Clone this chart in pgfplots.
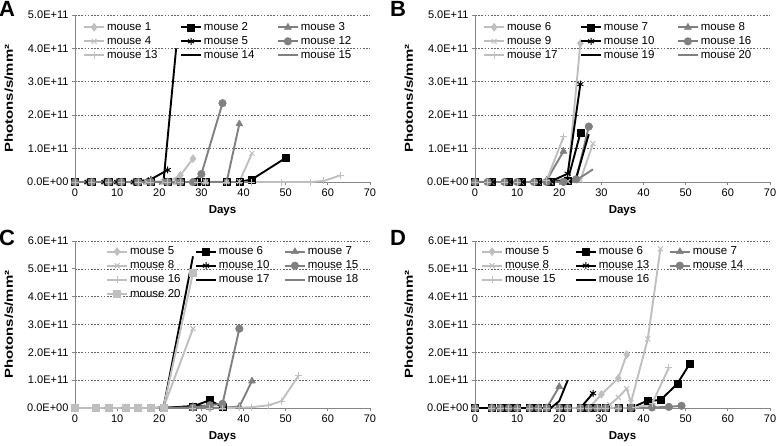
\documentclass[border=0pt]{standalone}
\usepackage{fontspec}
\setmainfont{Liberation Sans}
\usepackage{pgfplots}
\pgfplotsset{compat=1.18}
\definecolor{lg}{RGB}{191,191,191}
\definecolor{mg}{RGB}{128,128,128}
\definecolor{axgray}{RGB}{134,134,134}
\definecolor{gridgray}{RGB}{100,100,100}

\newcommand{\lt}[2]{\makebox[#1][l]{#2}}

\tikzset{
  sA/.style={lg, line width=1.9pt, mark=diamond*, mark size=4pt, mark options={solid, fill=lg, line width=0.5pt}},
  sB/.style={black, line width=1.9pt, mark=square*, mark size=3.5pt, mark options={solid, fill=black, line width=0.5pt}},
  sC/.style={mg, line width=1.9pt, mark=triangle*, mark size=4pt, mark options={solid, fill=mg, line width=0.5pt}},
  sD/.style={lg, line width=1.9pt, mark=x, mark size=3.5pt, mark options={solid, line width=1pt}},
  sE/.style={black, line width=1.9pt, mark=asterisk, mark size=3.5pt, mark options={solid, line width=1pt}},
  sF/.style={mg, line width=1.9pt, mark=*, mark size=3.8pt, mark options={solid, fill=mg, line width=0.5pt}},
  sG/.style={lg, line width=1.9pt, mark=+, mark size=3.5pt, mark options={solid, line width=1pt}},
  sH/.style={black, line width=1.9pt, no markers},
  sI/.style={mg, line width=1.9pt, no markers},
  sJ/.style={lg, line width=1.9pt, mark=square*, mark size=3.5pt, mark options={solid, fill=lg, line width=0.5pt}},
}

\pgfplotsset{
  panel/.style={
    scale only axis, width=295pt, height=167pt, anchor=south west,
    xmin=0, xmax=70, ymin=0,
    xtick={0,10,...,70},
    axis x line=bottom, axis y line=left,
    axis line style={-, draw=axgray, line width=0.8pt},
    tick style={draw=axgray, line width=0.8pt},
    tick align=outside, major tick length=3pt,
    ymajorgrids, grid style={gridgray, line width=0.6pt, dash pattern=on 1.6pt off 1.6pt},
    ticklabel style={font=\fontsize{11}{13}\selectfont},
    /pgf/number format/assume math mode=true,
    scaled y ticks=false,
    xlabel={Days}, ylabel={\scalebox{1.3}[1]{Photons/s/mm²}},
    label style={font=\bfseries\fontsize{11.5}{13}\selectfont},
    xlabel style={at={(axis description cs:0.5,-0.172)}, anchor=center},
    ylabel style={at={(axis description cs:-0.224,0.5)}, anchor=center},
    legend columns=3, legend cell align=left,
    legend image code/.code={\draw[mark repeat=2,mark phase=2,##1] plot coordinates {(0pt,0pt)(10pt,0pt)(20pt,0pt)};},
    legend style={draw=none, fill=none, anchor=north west, inner sep=0pt,
      font=\fontsize{11.5}{13}\selectfont, row sep=0.5pt},
    line join=round,
  },
  five/.style={ymax=5e11, ytick={0,1e11,2e11,3e11,4e11,5e11},
    yticklabels={0.0E+00,1.0E+11,2.0E+11,3.0E+11,4.0E+11,5.0E+11}},
  six/.style={ymax=6e11, ytick={0,1e11,2e11,3e11,4e11,5e11,6e11},
    yticklabels={0.0E+00,1.0E+11,2.0E+11,3.0E+11,4.0E+11,5.0E+11,6.0E+11}},
}

\begin{document}
\begin{tikzpicture}
\path[use as bounding box] (0pt,0pt) rectangle (778pt,445pt);

\node[font=\bfseries\fontsize{22}{22}\selectfont] at (7pt,436pt) {A};
\node[font=\bfseries\fontsize{22}{22}\selectfont] at (398pt,436pt) {B};
\node[font=\bfseries\fontsize{22}{22}\selectfont] at (7pt,207pt) {C};
\node[font=\bfseries\fontsize{22}{22}\selectfont] at (398pt,207pt) {D};

% ---------- A ----------
\begin{axis}[panel, five, at={(75pt,263pt)},
  legend style={at={(axis description cs:0.027,0.968)}}]
\addplot[sA] coordinates {(0,0)(4,0)(8,0)(11,0)(15,0)(18,0)(22,0)(25,0.2e11)(28,0.7e11)};
\addplot[sB] coordinates {(0,0)(4,0)(8,0)(11,0)(15,0)(18,0)(22,0)(25,0)(29,0)(31,0)(36,0)(39,0)(42,0.08e11)(50,0.72e11)};
\addplot[sC] coordinates {(0,0)(3,0)(7,0)(10,0)(14,0)(17,0)(21,0)(24,0)(28,0)(31,0)(36,0.01e11)(39,1.74e11)};
\addplot[sD] coordinates {(0,0)(3,0)(7,0)(10,0)(14,0)(17,0)(21,0)(24,0)(28,0)(31,0)(36,0)(39,0.01e11)(42,0.86e11)};
\addplot[sE] coordinates {(0,0)(3,0)(7,0)(10,0)(14,0)(18,0.08e11)(22,0.36e11)};
\addplot[sF] coordinates {(0,0)(4,0)(8,0)(11,0)(15,0)(18,0)(22,0)(25,0)(28,0)(30,0.24e11)(35,2.36e11)};
\addplot[sG] coordinates {(0,0)(4,0)(8,0)(11,0)(15,0)(18,0)(22,0)(25,0)(29,0)(31,0)(36,0)(39,0)(42,0)(49,0)(56,0)(59,0.03e11)(63,0.2e11)};
\addplot[sH] coordinates {(0,0)(3,0)(7,0)(10,0)(14,0)(17,0)(21,0.01e11)(24,4.0e11)};
\addplot[sI] coordinates {(0,0)(4,0)(8,0)(11,0)(15,0)(18,0)(22,0)(25,0)(29,0)(31,0)(36,0)(39,0)(42,0)};
\legend{\lt{71pt}{mouse 1},\lt{71pt}{mouse 2},\lt{71pt}{mouse 3},\lt{71pt}{mouse 4},\lt{71pt}{mouse 5},\lt{71pt}{mouse 12},\lt{71pt}{mouse 13},\lt{71pt}{mouse 14},\lt{71pt}{mouse 15}}
\end{axis}

% ---------- B ----------
\begin{axis}[panel, five, at={(475pt,263pt)},
  legend style={at={(axis description cs:0.027,0.968)}}]
\addplot[sA] coordinates {(0,0)(4,0)(8,0)(11,0)(15,0)(18,0.01e11)(22,0.12e11)(25,4.15e11)};
\addplot[sB] coordinates {(0,0)(4,0)(8,0)(11,0)(15,0)(18,0)(22,0.05e11)(25,1.46e11)};
\addplot[sC] coordinates {(0,0)(3,0)(7,0)(10,0)(14,0)(17,0.05e11)(21,0.92e11)};
\addplot[sD] coordinates {(0,0)(4,0)(8,0)(11,0)(15,0)(18,0)(22,0.02e11)(25,0.06e11)(28,1.15e11)};
\addplot[sE] coordinates {(0,0)(4,0)(8,0)(11,0)(15,0)(18,0.02e11)(22,0.25e11)(25,2.93e11)};
\addplot[sF] coordinates {(0,0)(3,0)(7,0)(10,0)(14,0)(17,0)(21,0)(24,0.08e11)(27,1.66e11)};
\addplot[sG] coordinates {(0,0)(3,0)(7,0)(10,0)(14,0)(17,0.05e11)(21,1.35e11)};
\addplot[sH] coordinates {(0,0)(3,0)(7,0)(10,0)(14,0)(17,0)(21,0.02e11)(24,0.12e11)(27,1.43e11)};
\addplot[sI] coordinates {(0,0)(3,0)(7,0)(10,0)(14,0)(17,0)(21,0)(24,0.05e11)(28,0.38e11)};
\legend{\lt{71pt}{mouse 6},\lt{71pt}{mouse 7},\lt{71pt}{mouse 8},\lt{71pt}{mouse 9},\lt{71pt}{mouse 10},\lt{71pt}{mouse 16},\lt{71pt}{mouse 17},\lt{71pt}{mouse 19},\lt{71pt}{mouse 20}}
\end{axis}

% ---------- C ----------
\begin{axis}[panel, six, at={(75pt,37pt)},
  legend style={at={(axis description cs:0.105,0.978)}}]
\addplot[sA] coordinates {(0,0)(5,0)(8,0)(12,0)(15,0)(18,0)(21,0)(28,0.02e11)(32,0.01e11)(35,0.01e11)};
\addplot[sB] coordinates {(0,0)(5,0)(8,0)(12,0)(15,0)(18,0)(21,0)(28,0.06e11)(32,0.28e11)(35,0.03e11)};
\addplot[sC] coordinates {(0,0)(5,0)(8,0)(12,0)(15,0)(18,0)(21,0)(28,0)(32,0.01e11)(35,0.01e11)(39,0.05e11)(42,0.97e11)};
\addplot[sD] coordinates {(0,0)(5,0)(8,0)(12,0)(15,0)(18,0)(21,0.02e11)(28,2.85e11)};
\addplot[sE] coordinates {(0,0)(5,0)(8,0)(12,0)(15,0)(18,0)(21,0)(28,0.07e11)(32,0.08e11)};
\addplot[sF] coordinates {(0,0)(5,0)(8,0)(12,0)(15,0)(18,0)(21,0)(28,0.02e11)(32,0.1e11)(35,0.15e11)(39,2.85e11)};
\addplot[sG] coordinates {(0,0)(5,0)(8,0)(12,0)(15,0)(18,0)(21,0)(28,0)(32,0)(35,0)(39,0.01e11)(42,0.03e11)(46,0.1e11)(49,0.25e11)(53,1.15e11)};
\addplot[sH] coordinates {(0,0)(5,0)(8,0)(12,0)(15,0)(18,0)(21,0.02e11)(28,5.45e11)};
\addplot[sI] coordinates {(0,0)(5,0)(8,0)(12,0)(15,0)(18,0)(21,0)(28,0)(32,0)(35,0)};
\addplot[sJ] coordinates {(0,0)(5,0)(8,0)(12,0)(15,0)(18,0)(21,0.02e11)(28,4.85e11)};
\legend{\lt{63pt}{mouse 5},\lt{63pt}{mouse 6},\lt{63pt}{mouse 7},\lt{63pt}{mouse 8},\lt{63pt}{mouse 10},\lt{63pt}{mouse 15},\lt{63pt}{mouse 16},\lt{63pt}{mouse 17},\lt{63pt}{mouse 18},\lt{63pt}{mouse 20}}
\end{axis}

% ---------- D ----------
\begin{axis}[panel, six, at={(475pt,37pt)},
  legend style={at={(axis description cs:0.02,0.978)}}]
\addplot[sA] coordinates {(0,0)(4,0)(6,0)(8,0)(10,0)(13,0)(15,0)(17,0)(20,0)(22,0)(25,0)(27,0)(30,0.49e11)(34,1.07e11)(36,1.92e11)};
\addplot[sB] coordinates {(0,0)(4,0)(6,0)(8,0)(10,0)(13,0)(15,0)(17,0)(20,0)(22,0)(25,0)(27,0)(29,0)(31,0)(34,0)(37,0)(41,0.27e11)(44,0.28e11)(48,0.87e11)(51,1.6e11)};
\addplot[sC] coordinates {(0,0)(4,0)(6,0)(8,0)(10,0)(13,0)(15,0)(17,0)(20,0.77e11)};
\addplot[sD] coordinates {(0,0)(4,0)(6,0)(8,0)(10,0)(13,0)(15,0)(17,0)(20,0)(22,0)(25,0)(28,0)(32,0.12e11)(34,0.38e11)(36,0.7e11)(37,0.2e11)(41,2.48e11)(44,5.72e11)};
\addplot[sE] coordinates {(0,0)(4,0)(6,0)(8,0)(10,0)(13,0)(15,0)(17,0)(20,0)(22,0)(25,0)(28,0.53e11)};
\addplot[sF] coordinates {(0,0)(4,0)(6,0)(8,0)(10,0)(13,0)(15,0)(17,0)(20,0)(22,0)(25,0)(27,0)(29,0)(31,0)(34,0)(37,0)(42,0.02e11)(46,0.04e11)(49,0.08e11)};
\addplot[sG] coordinates {(0,0)(4,0)(6,0)(8,0)(10,0)(13,0)(15,0)(17,0)(20,0)(22,0)(25,0)(27,0)(29,0)(31,0)(34,0)(38,0.02e11)(42,0.15e11)(46,1.45e11)};
\addplot[sH] coordinates {(0,0)(4,0)(6,0)(8,0)(10,0)(13,0)(15,0)(18,0)(20,0.25e11)(22,1.0e11)};
\legend{\lt{68pt}{mouse 5},\lt{68pt}{mouse 6},\lt{68pt}{mouse 7},\lt{68pt}{mouse 8},\lt{68pt}{mouse 13},\lt{68pt}{mouse 14},\lt{68pt}{mouse 15},\lt{68pt}{mouse 16}}
\end{axis}
\end{tikzpicture}
\end{document}
